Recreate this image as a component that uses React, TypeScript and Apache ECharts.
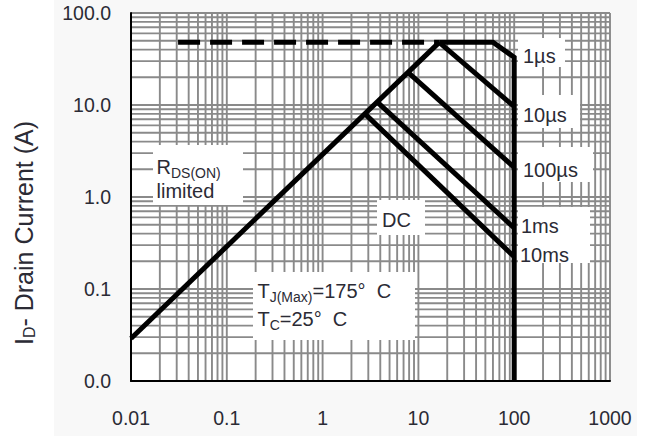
import React, { useEffect, useRef } from 'react';
import * as echarts from 'echarts';

// ---- axis ranges & tick labels ----
const X_MIN = 0.01;
const X_MAX = 1000;
const Y_MIN = 0.01;
const Y_MAX = 100;
const xTickLabels = ['0.01', '0.1', '1', '10', '100', '1000'];
const yTickLabels = ['0.0', '0.1', '1.0', '10.0', '100.0'];

// ---- log grid structure (decades x 1..9) ----
const gridDecadesX = [0.01, 0.1, 1, 10, 100];
const gridDecadesY = [0.01, 0.1, 1, 10];
const gridSteps = [1, 2, 3, 4, 5, 6, 7, 8, 9];

// ---- curves: [V_DS (V), I_D (A)] ----
const rdsLimitLine = [[0.01, 0.029], [16.5, 48]];
const currentLimitDashed = [[0.031, 48], [16.5, 48]];
const pulse1us = [[16.5, 48], [60, 48], [100, 33], [100, 0.01]];
const pulse10us = [[16.5, 48], [100, 9.6]];
const pulse100us = [[7.8, 22.6], [100, 2.1]];
const pulse1ms = [[3.7, 10.8], [100, 0.46]];
const pulse10ms = [[2.77, 8.0], [100, 0.224]];

// ---- annotation texts ----
const annotationLines = [
  '{m|R}{s|DS(ON)}',
  '{p|limited}',
  '{m|T}{s|J(Max)}{m|=175°  C}',
  '{m|T}{s|C}{m|=25°  C}',
  '{p|DC}',
  '{p|1µs}',
  '{p|10µs}',
  '{p|100µs}',
  '{p|1ms}',
  '{p|10ms}',
];
// layout (pixels) for each annotation line: [left, top]
const annotationPos = [
  [156.5, 153.5],
  [156.5, 181],
  [257.5, 277.5],
  [257.5, 305.5],
  [382, 210],
  [523, 45.5],
  [523, 105],
  [523, 159.5],
  [521, 215.8],
  [520, 244.5],
];
// white label boxes [x, y, w, h]
const labelBoxes = [
  [153, 145, 90, 60],
  [253, 272, 162, 68],
  [377, 200, 48, 35],
  [518, 38, 47, 29],
  [518, 95, 62, 33],
  [518, 147, 75, 35],
  [518, 207, 72, 56],
];

const FONT = '"Liberation Sans", Arial, Helvetica, sans-serif';
const TEXT = '#2b2b35';
const GRID_COLOR = '#8a8a8a';

export default function App() {
  const ref = useRef<HTMLDivElement>(null);

  useEffect(() => {
    if (!ref.current) return;
    const chart = echarts.init(ref.current, null, { renderer: 'svg', width: 646, height: 436 });

    const vLines: number[][] = [];
    gridDecadesX.forEach((d) => gridSteps.forEach((s) => vLines.push([d * s, 1])));
    vLines.push([X_MAX, 1]);
    const hLines: number[][] = [];
    gridDecadesY.forEach((d) => gridSteps.forEach((s) => hLines.push([1, d * s])));
    hLines.push([1, Y_MAX]);

    const rich = {
      m: { fontSize: 20, lineHeight: 26, fontFamily: FONT, fill: TEXT, color: TEXT },
      p: { fontSize: 20, lineHeight: 20, fontFamily: FONT, fill: TEXT, color: TEXT },
      s: { fontSize: 14, lineHeight: 10, verticalAlign: 'bottom', fontFamily: FONT, fill: TEXT, color: TEXT },
    };

    const curveStyle = { color: '#000', width: 5, join: 'miter', cap: 'butt' };
    const curve = (name: string, data: number[][], extra: any = {}) => ({
      name,
      type: 'line',
      data,
      symbol: 'none',
      silent: true,
      z: 3,
      lineStyle: { ...curveStyle, ...extra },
    });

    const option: any = {
      animation: false,
      backgroundColor: 'transparent',
      grid: { left: 131, right: 36, top: 13, bottom: 55, show: true, backgroundColor: '#ffffff', borderWidth: 0 },
      xAxis: {
        type: 'log',
        logBase: 10,
        min: X_MIN,
        max: X_MAX,
        z: 4,
        axisLine: { show: true, onZero: false, lineStyle: { color: '#000', width: 2 } },
        axisTick: { show: false },
        splitLine: { show: false },
        axisLabel: {
          formatter: (_v: number, i: number) => xTickLabels[i],
          fontSize: 19.5,
          fontFamily: FONT,
          color: TEXT,
          margin: 27,
        },
      },
      yAxis: {
        type: 'log',
        logBase: 10,
        min: Y_MIN,
        max: Y_MAX,
        z: 4,
        axisLine: { show: true, onZero: false, lineStyle: { color: '#000', width: 2 } },
        axisTick: { show: false },
        splitLine: { show: false },
        axisLabel: {
          formatter: (_v: number, i: number) => yTickLabels[i],
          fontSize: 19.5,
          fontFamily: FONT,
          color: TEXT,
          margin: 20,
        },
      },
      graphic: [
        ...labelBoxes.map((b) => ({
          type: 'rect',
          z: 2,
          silent: true,
          shape: { x: b[0], y: b[1], width: b[2], height: b[3] },
          style: { fill: '#ffffff' },
        })),
        ...annotationLines.map((t, i) => ({
          type: 'text',
          z: 2,
          z2: 10,
          silent: true,
          x: annotationPos[i][0],
          y: annotationPos[i][1],
          style: { text: t, rich, align: 'left', verticalAlign: 'top', textAlign: 'left', textVerticalAlign: 'top' },
        })),
        {
          type: 'text',
          z: 2,
          silent: true,
          x: 24,
          y: 233,
          rotation: Math.PI / 2,
          style: {
            text: '{m|I}{s|D}{m|- Drain Current (A)}',
            rich: {
              m: { fontSize: 25, lineHeight: 27, fontFamily: FONT, fill: TEXT, color: TEXT },
              s: { fontSize: 16, lineHeight: 16, verticalAlign: 'bottom', fontFamily: FONT, fill: TEXT, color: TEXT },
            },
            align: 'center',
            verticalAlign: 'middle',
            textAlign: 'center',
            textVerticalAlign: 'middle',
          },
        },
      ],
      series: [
        {
          name: 'vgrid',
          type: 'custom',
          silent: true,
          z: 1,
          data: vLines,
          renderItem: (_p: any, api: any) => {
            const v = api.value(0);
            const a = api.coord([v, Y_MIN]);
            const b = api.coord([v, Y_MAX]);
            return {
              type: 'line',
              shape: { x1: a[0], y1: a[1], x2: b[0], y2: b[1] },
              style: { stroke: GRID_COLOR, lineWidth: 1.9 },
            };
          },
        },
        {
          name: 'hgrid',
          type: 'custom',
          silent: true,
          z: 1,
          data: hLines,
          renderItem: (_p: any, api: any) => {
            const v = api.value(1);
            const a = api.coord([X_MIN, v]);
            const b = api.coord([X_MAX, v]);
            return {
              type: 'line',
              shape: { x1: a[0], y1: a[1], x2: b[0], y2: b[1] },
              style: { stroke: GRID_COLOR, lineWidth: 1.9 },
            };
          },
        },
        curve('RDS(ON) limited', rdsLimitLine),
        curve('Current limit', currentLimitDashed, { type: [22, 10] }),
        curve('1µs', pulse1us),
        curve('10µs', pulse10us),
        curve('100µs', pulse100us),
        curve('1ms', pulse1ms),
        curve('10ms', pulse10ms),
      ],
    };

    chart.setOption(option);
    return () => chart.dispose();
  }, []);

  return (
    <div style={{ position: 'fixed', left: 0, top: 0, width: 646, height: 436, background: '#ffffff', overflow: 'hidden' }}>
      <div style={{ position: 'absolute', left: 54, top: 0, width: 583, height: 436, background: '#f8f8f8' }} />
      <div ref={ref} style={{ position: 'absolute', left: 0, top: 0, width: 646, height: 436 }} />
    </div>
  );
}
